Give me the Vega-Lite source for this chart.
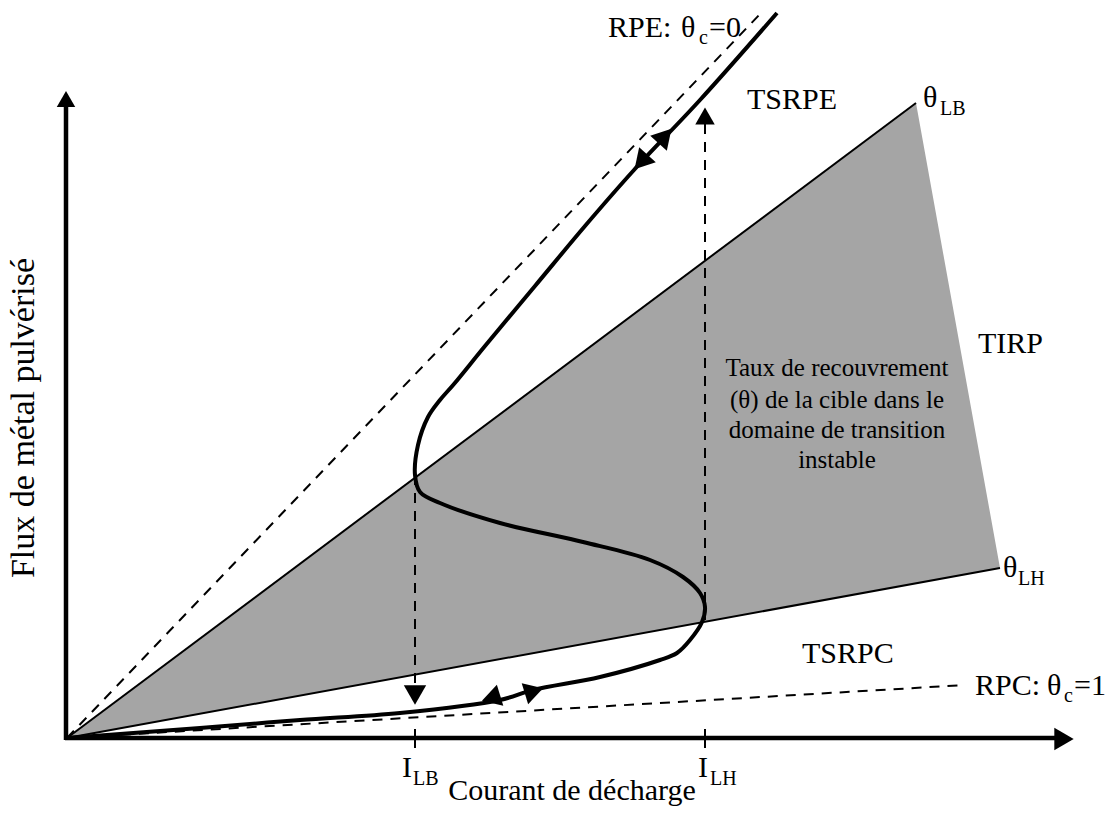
{
  "$schema": "https://vega.github.io/schema/vega-lite/v6.json",
  "width": 1109,
  "height": 816,
  "padding": 0,
  "autosize": {"type": "none"},
  "background": "white",
  "config": {"view": {"stroke": null}},
  "datasets": {
    "zone": [
      {"x": 0, "top": 0, "bot": 0},
      {"x": 849, "top": 635, "bot": 155},
      {"x": 933, "top": 170, "bot": 170}
    ],
    "thin": [
      {"x": 0, "y": 0, "x2": 849, "y2": 635},
      {"x": 0, "y": 0, "x2": 933, "y2": 170}
    ],
    "dashed": [
      {"x": 0, "y": 0, "x2": 695, "y2": 726},
      {"x": 0, "y": 0, "x2": 898, "y2": 53},
      {"x": 348, "y": 263, "x2": 348, "y2": 52},
      {"x": 638, "y": 118, "x2": 638, "y2": 614}
    ],
    "axes": [
      {"x": -1, "y": -2, "x2": -1, "y2": 632},
      {"x": -2, "y": 0, "x2": 990, "y2": 0}
    ],
    "ticks": [
      {"x": 348, "y": 9, "x2": 348, "y2": -10},
      {"x": 638, "y": 9, "x2": 638, "y2": -10}
    ],
    "curve": [
      {"o": 1, "x": 0, "y": 0},
      {"o": 2, "x": 133, "y": 10},
      {"o": 3, "x": 233, "y": 18},
      {"o": 4, "x": 333, "y": 25},
      {"o": 5, "x": 433, "y": 38},
      {"o": 6, "x": 466, "y": 48},
      {"o": 7, "x": 533, "y": 61},
      {"o": 8, "x": 593, "y": 78},
      {"o": 9, "x": 610, "y": 85},
      {"o": 10, "x": 623, "y": 98},
      {"o": 11, "x": 635, "y": 116},
      {"o": 12, "x": 638, "y": 131},
      {"o": 13, "x": 633, "y": 145},
      {"o": 14, "x": 616, "y": 161},
      {"o": 15, "x": 583, "y": 178},
      {"o": 16, "x": 516, "y": 196},
      {"o": 17, "x": 433, "y": 215},
      {"o": 18, "x": 373, "y": 235},
      {"o": 19, "x": 353, "y": 246},
      {"o": 20, "x": 348, "y": 263},
      {"o": 21, "x": 351, "y": 293},
      {"o": 22, "x": 361, "y": 321},
      {"o": 23, "x": 373, "y": 338},
      {"o": 24, "x": 387, "y": 354},
      {"o": 25, "x": 418, "y": 392},
      {"o": 26, "x": 468, "y": 452},
      {"o": 27, "x": 518, "y": 512},
      {"o": 28, "x": 567, "y": 568},
      {"o": 29, "x": 633, "y": 638},
      {"o": 30, "x": 710, "y": 725}
    ],
    "heads": [
      {"x": -1, "y": 639, "a": 0, "s": 340},
      {"x": 997, "y": -1, "a": 90, "s": 500},
      {"x": 638, "y": 622, "a": 0, "s": 380},
      {"x": 348, "y": 43, "a": 180, "s": 500},
      {"x": 574, "y": 576, "a": 222, "s": 500},
      {"x": 598, "y": 602, "a": 42, "s": 500},
      {"x": 424, "y": 40, "a": 253, "s": 480},
      {"x": 467, "y": 47, "a": 73, "s": 480}
    ],
    "labels": [
      {"x": 335, "y": -39, "t": "I", "s": 30},
      {"x": 346, "y": -47, "t": "LB", "s": 20},
      {"x": 631, "y": -39, "t": "I", "s": 30},
      {"x": 643, "y": -47, "t": "LH", "s": 20},
      {"x": 856, "y": 631, "t": "θ", "s": 30},
      {"x": 873, "y": 623, "t": "LB", "s": 20},
      {"x": 936, "y": 161, "t": "θ", "s": 30},
      {"x": 951, "y": 153, "t": "LH", "s": 20},
      {"x": 541, "y": 701, "t": "RPE:", "s": 30},
      {"x": 614, "y": 701, "t": "θ", "s": 30},
      {"x": 632, "y": 694, "t": "c", "s": 20},
      {"x": 642, "y": 701, "t": "=0", "s": 30},
      {"x": 908, "y": 43, "t": "RPC:", "s": 30},
      {"x": 980, "y": 43, "t": "θ", "s": 30},
      {"x": 997, "y": 36, "t": "c", "s": 20},
      {"x": 1007, "y": 43, "t": "=1", "s": 30},
      {"x": 680, "y": 629, "t": "TSRPE", "s": 30},
      {"x": 911, "y": 385, "t": "TIRP", "s": 30},
      {"x": 735, "y": 75, "t": "TSRPC", "s": 30}
    ],
    "centered": [
      {"x": 505, "y": -62, "t": "Courant de décharge", "s": 30},
      {"x": 770, "y": 362, "t": "Taux de recouvrement", "s": 25},
      {"x": 770, "y": 330, "t": "(θ) de la cible dans le", "s": 25},
      {"x": 770, "y": 300, "t": "domaine de transition", "s": 25},
      {"x": 770, "y": 270, "t": "instable", "s": 25}
    ]
  },
  "encoding": {},
  "layer": [
    {
      "data": {"name": "zone"},
      "mark": {"type": "area", "color": "#a5a5a5", "opacity": 1},
      "encoding": {
        "x": {"field": "x", "type": "quantitative", "scale": {"domain": [-67, 1042], "nice": false, "zero": false}, "axis": null},
        "y": {"field": "top", "type": "quantitative", "scale": {"domain": [-78, 738], "nice": false, "zero": false}, "axis": null},
        "y2": {"field": "bot"}
      }
    },
    {
      "data": {"name": "thin"},
      "mark": {"type": "rule", "color": "black", "strokeWidth": 2},
      "encoding": {
        "x": {"field": "x", "type": "quantitative"},
        "y": {"field": "y", "type": "quantitative"},
        "x2": {"field": "x2"},
        "y2": {"field": "y2"}
      }
    },
    {
      "data": {"name": "dashed"},
      "mark": {"type": "rule", "color": "black", "strokeWidth": 2, "strokeDash": [10, 8]},
      "encoding": {
        "x": {"field": "x", "type": "quantitative"},
        "y": {"field": "y", "type": "quantitative"},
        "x2": {"field": "x2"},
        "y2": {"field": "y2"}
      }
    },
    {
      "data": {"name": "axes"},
      "mark": {"type": "rule", "color": "black", "strokeWidth": 4.5},
      "encoding": {
        "x": {"field": "x", "type": "quantitative"},
        "y": {"field": "y", "type": "quantitative"},
        "x2": {"field": "x2"},
        "y2": {"field": "y2"}
      }
    },
    {
      "data": {"name": "ticks"},
      "mark": {"type": "rule", "color": "black", "strokeWidth": 2},
      "encoding": {
        "x": {"field": "x", "type": "quantitative"},
        "y": {"field": "y", "type": "quantitative"},
        "x2": {"field": "x2"},
        "y2": {"field": "y2"}
      }
    },
    {
      "data": {"name": "curve"},
      "mark": {"type": "line", "color": "black", "strokeWidth": 4, "interpolate": "catmull-rom"},
      "encoding": {
        "x": {"field": "x", "type": "quantitative"},
        "y": {"field": "y", "type": "quantitative"},
        "order": {"field": "o", "type": "quantitative"}
      }
    },
    {
      "data": {"name": "heads"},
      "mark": {"type": "point", "shape": "triangle-up", "filled": true, "color": "black", "opacity": 1},
      "encoding": {
        "x": {"field": "x", "type": "quantitative"},
        "y": {"field": "y", "type": "quantitative"},
        "angle": {"field": "a", "type": "quantitative", "scale": null},
        "size": {"field": "s", "type": "quantitative", "scale": null, "legend": null}
      }
    },
    {
      "data": {"name": "labels"},
      "mark": {"type": "text", "align": "left", "baseline": "alphabetic", "font": "Liberation Serif", "color": "black"},
      "encoding": {
        "x": {"field": "x", "type": "quantitative"},
        "y": {"field": "y", "type": "quantitative"},
        "text": {"field": "t"},
        "size": {"field": "s", "type": "quantitative", "scale": null, "legend": null}
      }
    },
    {
      "data": {"name": "centered"},
      "mark": {"type": "text", "align": "center", "baseline": "alphabetic", "font": "Liberation Serif", "color": "black"},
      "encoding": {
        "x": {"field": "x", "type": "quantitative"},
        "y": {"field": "y", "type": "quantitative"},
        "text": {"field": "t"},
        "size": {"field": "s", "type": "quantitative", "scale": null, "legend": null}
      }
    },
    {
      "data": {"values": [{"x": -43, "y": 320, "t": "Flux de métal pulvérisé"}]},
      "mark": {"type": "text", "align": "center", "baseline": "middle", "angle": 270, "font": "Liberation Serif", "fontSize": 34, "color": "black"},
      "encoding": {
        "x": {"field": "x", "type": "quantitative"},
        "y": {"field": "y", "type": "quantitative"},
        "text": {"field": "t"}
      }
    }
  ]
}
